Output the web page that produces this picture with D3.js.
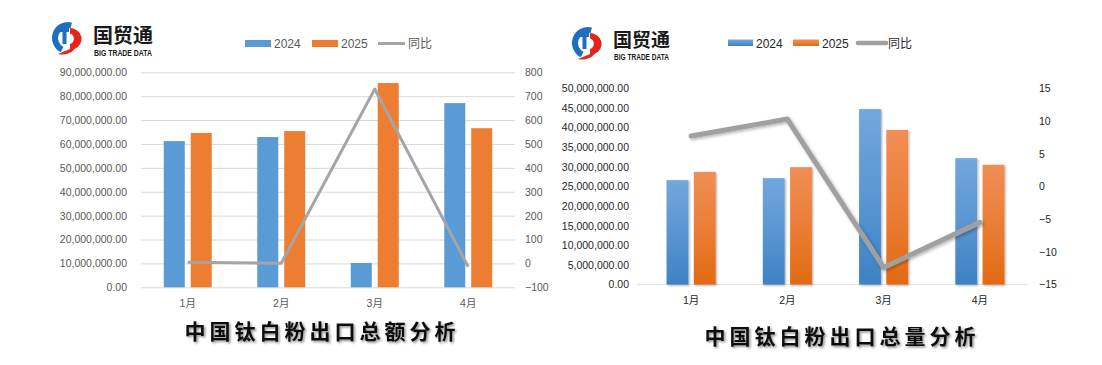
<!DOCTYPE html>
<html><head><meta charset="utf-8">
<script src="https://cdn.jsdelivr.net/npm/d3@7"></script>
<style>
html,body{margin:0;padding:0;background:#fff;}
svg{display:block;font-family:"Liberation Sans",Arial,sans-serif;}
</style></head>
<body>
<svg id="c" width="1102" height="365"></svg>
<script>
// ---- data ----
const months = ["1月","2月","3月","4月"];
const series = ["2024","2025"];
const amount2024 = [61200000, 62900000, 10200000, 77100000];
const amount2025 = [64600000, 65400000, 85500000, 66600000];
const amountYoY = [5, 0.5, 730, -14];
const volume2024 = [26600000, 27100000, 44700000, 32200000];
const volume2025 = [28700000, 29900000, 39400000, 30500000];
const volumeYoY = [7.7, 10.3, -12.4, -5.5];
const leftTicksA = [0,10e6,20e6,30e6,40e6,50e6,60e6,70e6,80e6,90e6];
const rightTicksA = [-100,0,100,200,300,400,500,600,700,800];
const leftTicksB = [0,5e6,10e6,15e6,20e6,25e6,30e6,35e6,40e6,45e6,50e6];
const rightTicksB = [-15,-10,-5,0,5,10,15];
const titles = ["中国钛白粉出口总额分析","中国钛白粉出口总量分析"];
const yoyLabel = "同比";

const svg = d3.select("#c");
const defs = svg.append("defs");
const fmt = d3.format(",.2f");

// filters & gradients
const ts = defs.append("filter").attr("id","tshadow").attr("x","-10%").attr("y","-30%").attr("width","120%").attr("height","160%");
ts.append("feDropShadow").attr("dx",1.5).attr("dy",1.5).attr("stdDeviation",1.2).attr("flood-color","#000").attr("flood-opacity",0.45);
const bs = defs.append("filter").attr("id","bshadow").attr("x","-30%").attr("y","-10%").attr("width","160%").attr("height","120%");
bs.append("feDropShadow").attr("dx",1).attr("dy",1).attr("stdDeviation",1.3).attr("flood-color","#000").attr("flood-opacity",0.35);
const ls = defs.append("filter").attr("id","lshadow").attr("x","-10%").attr("y","-20%").attr("width","120%").attr("height","140%");
ls.append("feDropShadow").attr("dx",1.5).attr("dy",1.5).attr("stdDeviation",1.5).attr("flood-color","#000").attr("flood-opacity",0.3);
function grad(id, top, bot){
  const g = defs.append("linearGradient").attr("id",id).attr("x1",0).attr("y1",0).attr("x2",0).attr("y2",1);
  g.append("stop").attr("offset","0%").attr("stop-color",top);
  g.append("stop").attr("offset","50%").attr("stop-color",d3.interpolateRgb(top,bot)(0.45));
  g.append("stop").attr("offset","100%").attr("stop-color",bot);
}
grad("gBlue","#72a7dc","#3d82c4");
grad("gOrange","#f08e55","#e26a12");

function logo(x, y, s){
  const g = svg.append("g").attr("transform",`translate(${x},${y}) scale(${s})`);
  // blue crescent (left)
  g.append("path").attr("d", d3.arc().innerRadius(10).outerRadius(16).startAngle(-Math.PI*0.85).endAngle(Math.PI*0.08)()).attr("fill","#1f6fc0");
  // blue T
  g.append("rect").attr("x",-9).attr("y",-10).attr("width",10).attr("height",4).attr("fill","#1f6fc0");
  g.append("rect").attr("x",-5.5).attr("y",-7).attr("width",4).attr("height",13).attr("fill","#1f6fc0");
  // red D with tail
  g.append("path").attr("d","M2,-10 A10.5,10.5 0 0 1 2,11 L-10,16 A16,16 0 0 0 0,15.5 A14,14 0 0 0 2,-10 Z").attr("fill","#e3261c");
  g.append("path").attr("d","M2,-10 L5,-9 A10,10 0 0 1 2,11 L2,6 A5.5,5.5 0 0 0 2,-4.5 Z").attr("fill","#e3261c");
}

function chart(cfg){
  const x = d3.scaleBand().domain(months).range([cfg.x0,cfg.x1]).paddingInner(cfg.pad).paddingOuter(cfg.pad/2);
  const x1 = d3.scaleBand().domain(series).range([0,x.bandwidth()]).paddingInner(cfg.innerPad);
  const y = d3.scaleLinear().domain([cfg.yTicks[0], cfg.yTicks[cfg.yTicks.length-1]]).range([cfg.yb,cfg.yt]);
  const y2 = d3.scaleLinear().domain([cfg.y2Ticks[0], cfg.y2Ticks[cfg.y2Ticks.length-1]]).range([cfg.yb,cfg.yt]);
  const g = svg.append("g");

  if(cfg.grid){
    g.append("g").attr("transform",`translate(${cfg.x0},0)`)
      .call(d3.axisLeft(y).tickValues(cfg.yTicks).tickSize(-(cfg.x1-cfg.x0)).tickFormat(""))
      .call(a=>{a.select(".domain").remove(); a.selectAll("line").attr("stroke","#d9d9d9");});
  } else {
    g.append("line").attr("x1",cfg.baseX0).attr("x2",cfg.x1).attr("y1",y(0)).attr("y2",y(0)).attr("stroke","#e3e3e3");
  }
  g.append("g").attr("transform",`translate(${cfg.x0},0)`)
    .call(d3.axisLeft(y).tickValues(cfg.yTicks).tickSize(0).tickPadding(cfg.lPad).tickFormat(fmt))
    .call(a=>{a.select(".domain").remove(); a.selectAll("text").attr("fill",cfg.tc).attr("font-size",cfg.fs).attr("font-family","Liberation Sans, Arial, sans-serif");});
  g.append("g").attr("transform",`translate(${cfg.x1},0)`)
    .call(d3.axisRight(y2).tickValues(cfg.y2Ticks).tickSize(0).tickPadding(cfg.rPad).tickFormat(d3.format("d")))
    .call(a=>{a.select(".domain").remove(); a.selectAll("text").attr("fill",cfg.tc).attr("font-size",cfg.fs).attr("font-family","Liberation Sans, Arial, sans-serif");});
  g.append("g").attr("transform",`translate(0,${cfg.yb})`)
    .call(d3.axisBottom(x).tickSize(0).tickPadding(cfg.xPad))
    .call(a=>{a.select(".domain").remove(); a.selectAll("text").attr("fill",cfg.tc).attr("font-size",cfg.fs).attr("font-family","Liberation Sans, Noto Sans CJK SC, sans-serif");});

  const vals = [cfg.a, cfg.b];
  const grp = g.append("g");
  series.forEach((s,si)=>{
    grp.selectAll(null).data(months).join("rect")
      .attr("x",m=>x(m)+x1(s)).attr("width",x1.bandwidth())
      .attr("y",(m,i)=>y(vals[si][i])).attr("height",(m,i)=>y(0)-y(vals[si][i]))
      .attr("fill",cfg.fills[si])
      .attr("filter",cfg.fancy?"url(#bshadow)":null);
  });
  const line = d3.line().x((d,i)=>x(months[i])+x.bandwidth()/2).y(d=>y2(d));
  g.append("path").datum(cfg.yoy).attr("d",line).attr("fill","none")
    .attr("stroke",cfg.lineColor).attr("stroke-width",cfg.lw).attr("stroke-linejoin","round").attr("stroke-linecap",cfg.fancy?"round":"butt")
    .attr("filter",cfg.fancy?"url(#lshadow)":null);

  const lg = svg.append("g").attr("font-size",12).attr("fill",cfg.legendTc);
  cfg.legend.forEach((it,i)=>{
    if(it.type==="rect"){
      lg.append("rect").attr("x",it.x).attr("y",cfg.ly-3.5).attr("width",it.w).attr("height",cfg.lh).attr("fill",it.fill);
    } else {
      lg.append("line").attr("x1",it.x).attr("x2",it.x+it.w).attr("y1",cfg.ly).attr("y2",cfg.ly).attr("stroke",it.fill).attr("stroke-width",cfg.llw).attr("stroke-linecap",cfg.fancy?"round":"butt");
    }
    lg.append("text").attr("x",it.tx).attr("y",cfg.ly+4.5).text(it.label)
      .attr("font-family","Liberation Sans, Noto Sans CJK SC, sans-serif");
  });

  svg.append("text").attr("x",cfg.titleX).attr("y",cfg.titleY).attr("text-anchor","middle")
    .attr("font-family","Noto Sans CJK SC, sans-serif").attr("font-weight","bold").attr("font-size",21)
    .attr("letter-spacing",4).attr("fill","#111").attr("filter","url(#tshadow)").text(cfg.title);
}

chart({x0:141,x1:515,baseX0:141,pad:0.487,innerPad:0.22,yb:287.3,yt:72.3,yTicks:leftTicksA,y2Ticks:rightTicksA,
  grid:true,lPad:14,rPad:10,xPad:12,tc:"#595959",fs:10.5,a:amount2024,b:amount2025,yoy:amountYoY,
  fills:["#5b9bd5","#ed7d31"],lineColor:"#a5a5a5",lw:3,fancy:false,
  ly:43.5,lh:7,llw:3,legendTc:"#595959",
  legend:[{type:"rect",x:245,w:26,fill:"#5b9bd5",tx:274,label:series[0]},{type:"rect",x:312,w:26,fill:"#ed7d31",tx:341,label:series[1]},{type:"line",x:378,w:27,fill:"#a5a5a5",tx:408,label:yoyLabel}],
  titleX:322,titleY:339,title:titles[0]});

chart({x0:643,x1:1028,baseX0:637,pad:0.49,innerPad:0.2,yb:284.5,yt:88.3,yTicks:leftTicksB,y2Ticks:rightTicksB,
  grid:false,lPad:14,rPad:11,xPad:12,tc:"#262626",fs:10.5,a:volume2024,b:volume2025,yoy:volumeYoY,
  fills:["url(#gBlue)","url(#gOrange)"],lineColor:"#a0a0a0",lw:5,fancy:true,
  ly:43,lh:6.5,llw:4.5,legendTc:"#262626",
  legend:[{type:"rect",x:728,w:25,fill:"url(#gBlue)",tx:756,label:series[0]},{type:"rect",x:793,w:26,fill:"url(#gOrange)",tx:822,label:series[1]},{type:"line",x:858,w:28,fill:"#a0a0a0",tx:888,label:yoyLabel}],
  titleX:842,titleY:344,title:titles[1]});

function brand(lx, ly, tx, ty1, ty2, fs){
  logo(lx, ly, 1);
  svg.append("text").attr("x",tx).attr("y",ty1).attr("font-family","Noto Sans CJK SC, sans-serif").attr("font-weight","bold").attr("font-size",fs).attr("fill","#1a1a1a").text("国贸通");
  svg.append("text").attr("x",tx+1).attr("y",ty2).attr("font-family","Liberation Sans, Arial, sans-serif").attr("font-weight","bold").attr("font-size",9.5).attr("textLength",fs*3-2).attr("lengthAdjust","spacingAndGlyphs").attr("fill","#1a1a1a").text("BIG TRADE DATA");
}
brand(68, 38, 93, 43, 56, 20);
brand(588, 43, 613, 46.5, 59.5, 19);
</script>
</body></html>
